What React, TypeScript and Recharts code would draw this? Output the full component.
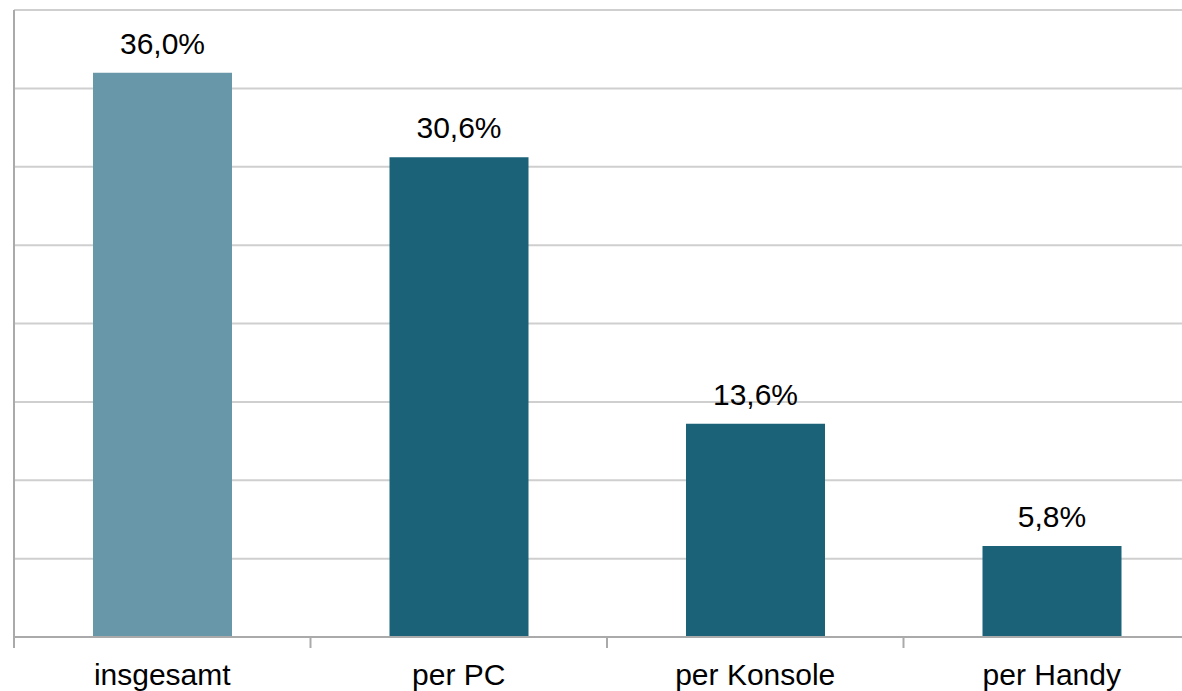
import { BarChart, Bar, XAxis, YAxis, CartesianGrid, LabelList, Cell } from 'recharts';

const categories = ['insgesamt', 'per PC', 'per Konsole', 'per Handy'];
const shares = [36.0, 30.6, 13.6, 5.8];
const barColors = ['#6797a8', '#1b6279', '#1b6279', '#1b6279'];
const yTicks = [0, 5, 10, 15, 20, 25, 30, 35, 40];

const data = categories.map((name, i) => ({ name, value: shares[i] }));

const fmt = (v: any) => `${Number(v).toFixed(1).replace('.', ',')}%`;
const NoLabel = () => <g />;

const LABEL_GAP = 27;
const EDGE_TICK = 11;

// category label plus tick marks on the band edges (not on the centers)
const CategoryTick = (props: any) => {
  const { x, y, payload, index, visibleTicksCount } = props;
  const half = payload?.offset ?? 0;
  const axisY = y - LABEL_GAP;
  const last = index === visibleTicksCount - 1;
  return (
    <g>
      <line x1={x - half} x2={x - half} y1={axisY} y2={axisY + EDGE_TICK} stroke="#aaaaaa" strokeWidth={2} />
      {last && (
        <line x1={x + half} x2={x + half} y1={axisY} y2={axisY + EDGE_TICK} stroke="#aaaaaa" strokeWidth={2} />
      )}
      <text x={x} y={y} dy="0.71em" textAnchor="middle" fontSize={30} fill="#000">
        {payload.value}
      </text>
    </g>
  );
};

export default function App() {
  return (
    <div
      style={{
        position: 'fixed',
        top: 0,
        left: 0,
        width: 1182,
        height: 691,
        overflow: 'hidden',
        background: '#fff',
        fontFamily: '"Liberation Sans", Arial, Helvetica, sans-serif',
      }}
    >
      <BarChart width={1210} height={691} data={data} margin={{ top: 10, right: 10, left: 13, bottom: 0 }}>
        <CartesianGrid vertical={false} stroke="#cfcfcf" strokeWidth={2} />
        <XAxis
          dataKey="name"
          stroke="#aaaaaa"
          strokeWidth={2}
          tickLine={false}
          tickSize={0}
          tickMargin={LABEL_GAP}
          height={54}
          tick={CategoryTick}
          interval={0}
        />
        <YAxis
          domain={[0, 40]}
          ticks={yTicks}
          tick={NoLabel}
          tickLine={false}
          width={1}
          stroke="#aaaaaa"
          strokeWidth={2}
        />
        <Bar dataKey="value" barSize={139} isAnimationActive={false}>
          {data.map((d, i) => (
            <Cell key={d.name} fill={barColors[i]} />
          ))}
          <LabelList dataKey="value" position="top" offset={19} formatter={fmt} fill="#000" fontSize={30} />
        </Bar>
      </BarChart>
    </div>
  );
}
